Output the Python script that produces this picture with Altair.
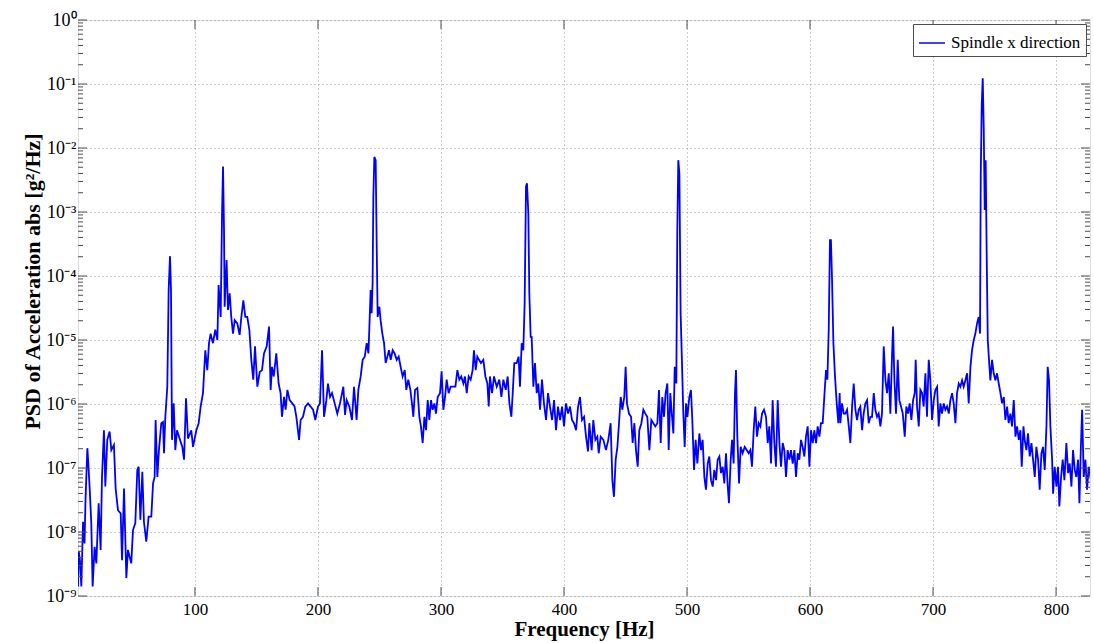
import altair as alt
import pandas as pd

# ---- data (frequency in Hz, PSD as log10 exponent) ----
freq = [4.9, 5.5, 6.5, 7.6, 9.0, 10.2, 11.0, 12.5, 13.2, 14.4, 15.7, 16.8, 18.4, 19.8, 21.7, 23.3, 24.4, 26.0, 27.1, 28.7,
        30.6, 32.0, 34.1, 35.5, 37.4, 39.6, 40.7, 42.3, 44.2, 45.5, 48.2, 49.6, 51.5, 53.1, 54.2, 55.6, 57.2, 58.5, 60.4, 62.3,
        64.5, 65.9, 67.2, 68.0, 69.4, 70.7, 72.6, 74.0, 74.8, 75.9, 77.5, 78.6, 79.7, 80.5, 81.3, 82.7, 84.0, 85.4, 87.5, 89.7,
        91.1, 92.7, 94.3, 97.0, 98.4, 101.1, 103.0, 104.6, 106.5, 108.4, 110.0, 111.4, 112.7, 114.6, 116.5, 118.2, 119.2, 120.9, 122.0, 122.8,
        123.6, 124.1, 125.7, 126.8, 128.2, 129.5, 130.9, 132.3, 134.4, 136.3, 137.7, 139.3, 140.9, 142.5, 144.2, 145.8, 147.4, 148.8, 150.7, 152.6,
        154.5, 156.1, 158.3, 160.2, 161.5, 162.6, 164.0, 166.1, 168.0, 169.6, 170.7, 172.4, 173.7, 175.1, 177.0, 179.1, 181.0, 182.4, 184.6, 185.9,
        187.8, 189.7, 191.9, 194.0, 196.0, 197.8, 200.0, 201.6, 203.3, 204.9, 206.8, 208.1, 209.8, 211.4, 213.6, 215.7, 217.9, 220.6, 222.0, 223.3,
        225.5, 227.6, 229.3, 231.4, 232.8, 234.7, 236.3, 238.0, 239.6, 241.0, 241.7, 242.8, 243.6, 244.4, 245.0, 245.8, 246.9, 247.7, 248.5, 249.9,
        250.9, 252.3, 253.7, 255.0, 256.4, 257.7, 259.1, 260.7, 262.3, 264.0, 265.6, 267.2, 268.8, 270.5, 271.8, 273.4, 275.1, 276.4, 277.5, 278.9,
        280.8, 282.4, 283.7, 285.1, 286.5, 287.8, 289.2, 290.5, 291.9, 293.2, 294.6, 295.9, 297.3, 299.2, 300.5, 301.9, 303.3, 304.6, 306.2, 307.9,
        310.0, 311.7, 313.3, 314.9, 316.5, 318.2, 319.5, 320.9, 322.5, 324.1, 325.7, 326.8, 328.2, 329.5, 330.9, 332.5, 334.4, 336.1, 337.7, 338.8,
        339.8, 341.5, 343.1, 345.3, 347.4, 349.1, 350.7, 352.6, 354.2, 355.6, 357.2, 358.3, 359.6, 361.5, 363.1, 364.2, 365.6, 366.9, 368.0, 369.1,
        369.9, 371.0, 371.8, 372.9, 373.7, 375.1, 376.4, 377.8, 379.1, 380.5, 382.1, 383.7, 385.4, 387.0, 388.6, 390.3, 391.9, 393.5, 395.1, 396.8,
        398.4, 400.0, 401.6, 403.3, 404.9, 406.5, 408.1, 409.8, 411.4, 413.0, 414.6, 416.3, 417.9, 419.5, 420.6, 422.5, 423.8, 425.5, 427.1, 428.2,
        429.8, 432.0, 434.1, 436.0, 437.9, 439.3, 440.6, 442.0, 443.4, 444.7, 446.1, 447.4, 449.0, 450.1, 451.2, 452.8, 454.5, 455.8, 457.2, 458.5,
        459.9, 461.2, 462.9, 464.5, 466.1, 467.7, 469.4, 471.0, 472.6, 474.2, 475.9, 477.2, 478.6, 479.9, 481.3, 482.6, 484.0, 485.1, 486.4, 487.8,
        488.9, 490.0, 491.3, 492.1, 492.9, 493.8, 494.8, 495.9, 497.0, 498.1, 499.2, 500.3, 501.9, 503.2, 504.3, 505.7, 507.0, 508.4, 510.0, 511.4,
        512.7, 514.1, 515.4, 516.8, 518.1, 519.5, 520.9, 522.2, 523.6, 524.9, 526.3, 527.6, 529.0, 530.3, 531.7, 533.1, 534.1, 535.5, 536.6, 537.9,
        539.0, 539.8, 540.9, 542.3, 543.6, 545.2, 546.9, 548.5, 550.1, 551.5, 552.8, 554.2, 555.5, 556.9, 558.3, 559.6, 561.0, 562.6, 564.2, 565.6,
        566.9, 568.3, 569.6, 571.0, 572.3, 573.7, 575.1, 576.4, 577.8, 579.1, 580.5, 581.8, 583.2, 584.5, 585.9, 587.3, 588.6, 590.0, 591.3, 592.7,
        594.0, 595.4, 596.7, 598.1, 599.5, 600.8, 602.2, 603.5, 604.9, 606.2, 607.6, 608.9, 610.3, 611.6, 613.0, 614.1, 615.2, 616.2, 617.0, 617.9,
        619.0, 620.3, 621.7, 623.0, 624.1, 624.7, 626.0, 627.4, 628.7, 630.1, 631.5, 632.8, 634.2, 635.5, 636.9, 638.2, 639.6, 640.9, 642.3, 643.6,
        645.0, 646.4, 647.7, 649.1, 650.4, 651.8, 653.1, 654.5, 655.8, 657.2, 658.5, 659.9, 661.3, 662.6, 664.0, 665.3, 666.7, 667.5, 668.6, 669.9,
        671.3, 672.6, 674.0, 675.4, 677.0, 678.3, 679.7, 681.0, 682.4, 683.8, 685.1, 685.9, 687.0, 688.4, 689.7, 691.1, 692.4, 693.8, 695.1, 696.5,
        697.8, 699.2, 700.6, 701.9, 703.3, 704.6, 706.0, 707.3, 708.7, 710.0, 711.4, 712.8, 714.1, 715.5, 716.8, 718.2, 719.5, 720.9, 722.2, 723.6,
        724.9, 726.3, 727.7, 729.0, 730.4, 731.7, 733.1, 734.4, 735.8, 737.1, 738.2, 738.8, 739.6, 740.4, 741.2, 742.0, 742.8, 743.6, 744.5, 745.5,
        746.6, 748.0, 749.3, 750.7, 752.0, 753.4, 754.8, 756.1, 757.5, 758.8, 760.2, 761.5, 762.9, 764.2, 765.6, 767.0, 768.3, 769.7, 771.0, 772.1,
        773.5, 774.5, 775.9, 777.2, 778.6, 780.0, 781.3, 782.7, 784.0, 785.4, 786.7, 788.1, 789.4, 790.8, 792.2, 793.2, 794.3, 795.4, 796.8, 797.6,
        798.9, 800.3, 801.6, 802.7, 804.1, 805.4, 806.8, 808.4, 809.8, 811.1, 812.5, 813.8, 815.2, 816.5, 817.9, 819.0, 820.1, 821.2, 822.5, 823.9,
        825.2, 826.6, 827.9]

psd_exp = [-8.85, -8.3, -8.45, -8.85, -7.84, -8.18, -7.5, -6.69, -6.9, -7.32, -7.86, -8.85, -8.23, -8.49, -7.55, -8.28, -7.14, -6.41, -7.29, -6.56,
           -6.43, -6.72, -6.64, -7.32, -7.66, -7.71, -8.44, -7.32, -8.72, -8.28, -8.49, -7.97, -7.86, -7.03, -6.98, -7.81, -7.06, -7.84, -8.15, -7.76,
           -7.76, -7.24, -7.14, -6.25, -7.14, -6.72, -6.3, -6.28, -6.77, -6.2, -5.73, -4.22, -3.69, -4.22, -6.56, -5.99, -6.72, -6.41, -6.54, -6.67,
           -6.87, -5.91, -6.54, -6.41, -6.67, -6.41, -6.3, -6.04, -5.83, -5.16, -5.47, -5.05, -4.9, -5.05, -4.84, -5.0, -4.14, -4.64, -3.02, -2.29,
           -3.28, -4.48, -3.75, -4.53, -4.27, -4.64, -4.9, -4.69, -4.74, -4.92, -4.64, -4.38, -4.64, -4.64, -4.84, -5.31, -5.62, -5.1, -5.73, -5.5,
           -5.47, -5.21, -5.1, -4.79, -5.78, -5.42, -5.57, -5.21, -5.68, -5.83, -6.2, -5.89, -6.09, -5.78, -5.94, -5.99, -6.04, -6.2, -6.56, -6.25,
           -6.2, -6.04, -5.99, -6.04, -6.09, -6.25, -6.04, -5.99, -5.16, -6.2, -5.94, -5.68, -5.89, -5.83, -5.99, -6.15, -5.99, -5.73, -6.17, -5.94,
           -6.04, -6.25, -5.73, -6.25, -5.78, -5.57, -5.31, -5.26, -5.05, -5.21, -4.84, -4.22, -4.58, -4.11, -2.76, -2.14, -2.19, -3.49, -4.64, -4.48,
           -4.69, -4.9, -5.05, -5.36, -5.26, -5.16, -5.31, -5.16, -5.21, -5.31, -5.26, -5.42, -5.57, -5.47, -5.78, -5.62, -5.78, -5.99, -6.2, -5.78,
           -5.75, -6.2, -6.35, -6.61, -6.2, -6.41, -5.94, -6.25, -5.94, -6.09, -5.99, -6.15, -5.89, -5.83, -5.49, -6.09, -5.89, -5.62, -5.83, -5.73,
           -5.73, -5.73, -5.47, -5.62, -5.57, -5.68, -5.57, -5.83, -5.57, -5.62, -5.47, -5.16, -5.47, -5.26, -5.31, -5.36, -5.31, -5.57, -5.68, -6.04,
           -5.57, -5.83, -5.57, -5.73, -5.62, -5.89, -5.62, -5.78, -5.57, -5.99, -6.2, -5.83, -5.36, -5.36, -5.26, -5.73, -5.05, -5.16, -4.43, -2.6,
           -2.55, -3.02, -4.27, -4.95, -4.95, -5.73, -5.36, -5.83, -5.68, -6.09, -5.62, -5.99, -6.25, -5.83, -6.04, -6.25, -5.94, -6.41, -6.04, -6.25,
           -6.04, -6.35, -5.99, -6.15, -6.04, -6.25, -6.3, -6.41, -6.04, -5.89, -6.25, -6.2, -6.51, -6.74, -6.3, -6.72, -6.25, -6.56, -6.51, -6.77,
           -6.51, -6.56, -6.72, -6.56, -6.3, -7.19, -7.45, -6.87, -6.67, -6.3, -5.89, -6.09, -5.89, -5.42, -5.99, -6.15, -6.2, -6.61, -6.3, -6.72,
           -6.98, -6.41, -6.3, -6.09, -6.15, -6.2, -6.72, -6.25, -6.3, -6.35, -6.3, -5.78, -6.61, -5.89, -6.2, -5.83, -5.68, -6.72, -5.83, -6.2,
           -6.46, -5.42, -5.68, -3.28, -2.19, -2.4, -4.58, -5.36, -6.15, -6.67, -5.99, -6.2, -5.89, -5.78, -6.25, -7.03, -6.56, -6.93, -6.46, -6.72,
           -6.56, -7.14, -7.34, -6.93, -6.82, -7.19, -7.29, -7.03, -7.19, -6.87, -6.82, -7.08, -6.98, -7.24, -6.77, -7.29, -7.55, -6.87, -6.56, -6.93,
           -5.83, -5.47, -6.51, -7.24, -6.67, -6.77, -6.67, -6.72, -6.77, -6.72, -6.98, -6.41, -6.04, -6.51, -6.3, -6.35, -6.15, -6.09, -6.2, -6.61,
           -6.35, -6.93, -5.94, -6.61, -6.98, -5.94, -6.61, -6.98, -6.61, -6.72, -7.14, -6.72, -6.87, -6.72, -6.93, -6.72, -7.14, -6.77, -6.87, -6.56,
           -6.67, -6.82, -6.51, -6.35, -6.98, -6.41, -6.61, -6.41, -6.61, -6.35, -6.51, -6.3, -6.3, -5.89, -5.47, -5.62, -4.84, -3.44, -3.44, -4.06,
           -5.05, -5.57, -5.99, -6.3, -5.83, -6.3, -5.99, -6.15, -6.15, -6.09, -6.35, -6.61, -6.04, -5.68, -6.09, -6.25, -6.09, -6.04, -6.41, -6.15,
           -5.99, -5.94, -6.3, -6.2, -6.2, -5.83, -6.09, -6.2, -6.15, -6.35, -6.15, -5.1, -5.63, -5.83, -5.52, -6.15, -5.21, -4.79, -5.63, -6.15,
           -5.31, -5.94, -6.04, -6.15, -6.51, -6.04, -6.15, -5.99, -6.25, -5.94, -5.83, -5.31, -6.04, -6.35, -5.78, -5.83, -6.04, -5.52, -6.2, -5.31,
           -5.63, -6.25, -5.94, -5.78, -5.73, -6.35, -5.99, -6.15, -5.99, -6.09, -6.04, -6.15, -5.94, -5.83, -5.99, -6.3, -5.83, -5.68, -5.73, -5.63,
           -5.73, -5.63, -5.52, -5.99, -5.42, -5.16, -5.0, -4.9, -4.74, -4.64, -4.9, -2.4, -1.3, -0.91, -1.67, -2.97, -2.19, -3.65, -5.0, -5.31,
           -5.63, -5.31, -5.52, -5.63, -5.52, -5.68, -5.83, -5.99, -5.89, -6.25, -6.04, -6.3, -6.15, -6.35, -5.94, -6.51, -6.35, -6.56, -6.41, -6.98,
           -6.35, -6.56, -6.72, -6.46, -6.82, -6.61, -6.87, -7.14, -6.67, -6.87, -7.34, -6.77, -6.67, -7.03, -6.35, -5.42, -5.63, -6.35, -6.87, -7.4,
           -6.98, -7.29, -6.98, -7.6, -7.14, -6.87, -7.19, -6.61, -7.08, -6.93, -7.29, -6.72, -7.03, -7.14, -6.87, -7.55, -6.72, -6.09, -7.14, -6.87,
           -7.34, -6.98, -7.14]

series_name = "Spindle x direction"
x_ticks = [100, 200, 300, 400, 500, 600, 700, 800]
y_decades = [1e0, 1e-1, 1e-2, 1e-3, 1e-4, 1e-5, 1e-6, 1e-7, 1e-8, 1e-9]
y_minor = [m * 10.0 ** k for k in range(-9, 0) for m in range(2, 10)]

X_DOMAIN = [4.9, 827.6]
Y_DOMAIN = [1e-9, 1.0]
W, H = 1012, 576
FONT = "Liberation Serif"
FRAME = "#4d4d4d"
GRID = "#9a9a9a"

df = pd.DataFrame({"freq": freq, "psd": [10.0 ** e for e in psd_exp], "series": series_name})

xs = alt.Scale(domain=X_DOMAIN, nice=False, zero=False)
ys = alt.Scale(type="log", domain=Y_DOMAIN, nice=False)

sup = "['10⁰','10⁻¹','10⁻²','10⁻³','10⁻⁴','10⁻⁵','10⁻⁶','10⁻⁷','10⁻⁸','10⁻⁹'][round(-log(datum.value)/LN10)]"

line = alt.Chart(df).mark_line(strokeWidth=1.8, clip=True, interpolate="linear").encode(
    x=alt.X("freq:Q", scale=xs,
            axis=alt.Axis(values=x_ticks, title="Frequency [Hz]", grid=True, ticks=False, domain=False,
                          labelFont=FONT, labelFontSize=17, labelColor="black", labelPadding=5,
                          titleFont=FONT, titleFontSize=21, titleFontWeight="bold", titleColor="black",
                          titleY=39, titleBaseline="alphabetic",
                          gridColor=GRID, gridDash=[1, 3], gridWidth=1, gridOpacity=1)),
    y=alt.Y("psd:Q", scale=ys,
            axis=alt.Axis(values=y_decades, labelExpr=sup, title="PSD of Acceleration abs [g²/Hz]",
                          grid=True, ticks=False, domain=False,
                          labelFont=FONT, labelFontSize=18, labelColor="black", labelPadding=2,
                          titleFont=FONT, titleFontSize=22, titleFontWeight="bold", titleColor="black",
                          titleAngle=270, titleX=-46, titleY=261, titleAlign="center", titleBaseline="middle",
                          gridColor=GRID, gridDash=[1, 3], gridWidth=1, gridOpacity=1)),
    color=alt.Color("series:N", scale=alt.Scale(range=["#0000ff"]),
                    legend=alt.Legend(title=None, orient="top-right", offset=4, padding=5,
                                      strokeColor=FRAME, fillColor="white", symbolType="stroke",
                                      symbolSize=676, symbolStrokeWidth=1.5, labelFont=FONT,
                                      labelFontSize=17, labelColor="black", labelOffset=5)),
)

xt = pd.DataFrame({"v": x_ticks})
yt = pd.DataFrame({"v": y_decades})
ym = pd.DataFrame({"v": y_minor})

def xrule(y0, y1):
    return alt.Chart(xt).mark_rule(color=FRAME, strokeWidth=1).encode(
        x=alt.X("v:Q", scale=xs), y=alt.value(y0), y2=alt.value(y1))

def yrule(data, x0, x1):
    return alt.Chart(data).mark_rule(color=FRAME, strokeWidth=1).encode(
        y=alt.Y("v:Q", scale=ys), x=alt.value(x0), x2=alt.value(x1))

ticks = [
    xrule(H, H - 9), xrule(0, 9),
    yrule(yt, 0, 9), yrule(yt, W, W - 9),
    yrule(ym, 0, 5), yrule(ym, W, W - 5),
]

chart = alt.layer(line, *ticks).properties(
    width=W, height=H,
    autosize=alt.AutoSizeParams(type="none"),
    padding={"left": 78, "top": 20, "right": 4, "bottom": 47},
).configure_view(stroke=FRAME, strokeWidth=1).configure(background="white")

chart.save("out.html", embed_options={"renderer": "svg", "actions": False})
